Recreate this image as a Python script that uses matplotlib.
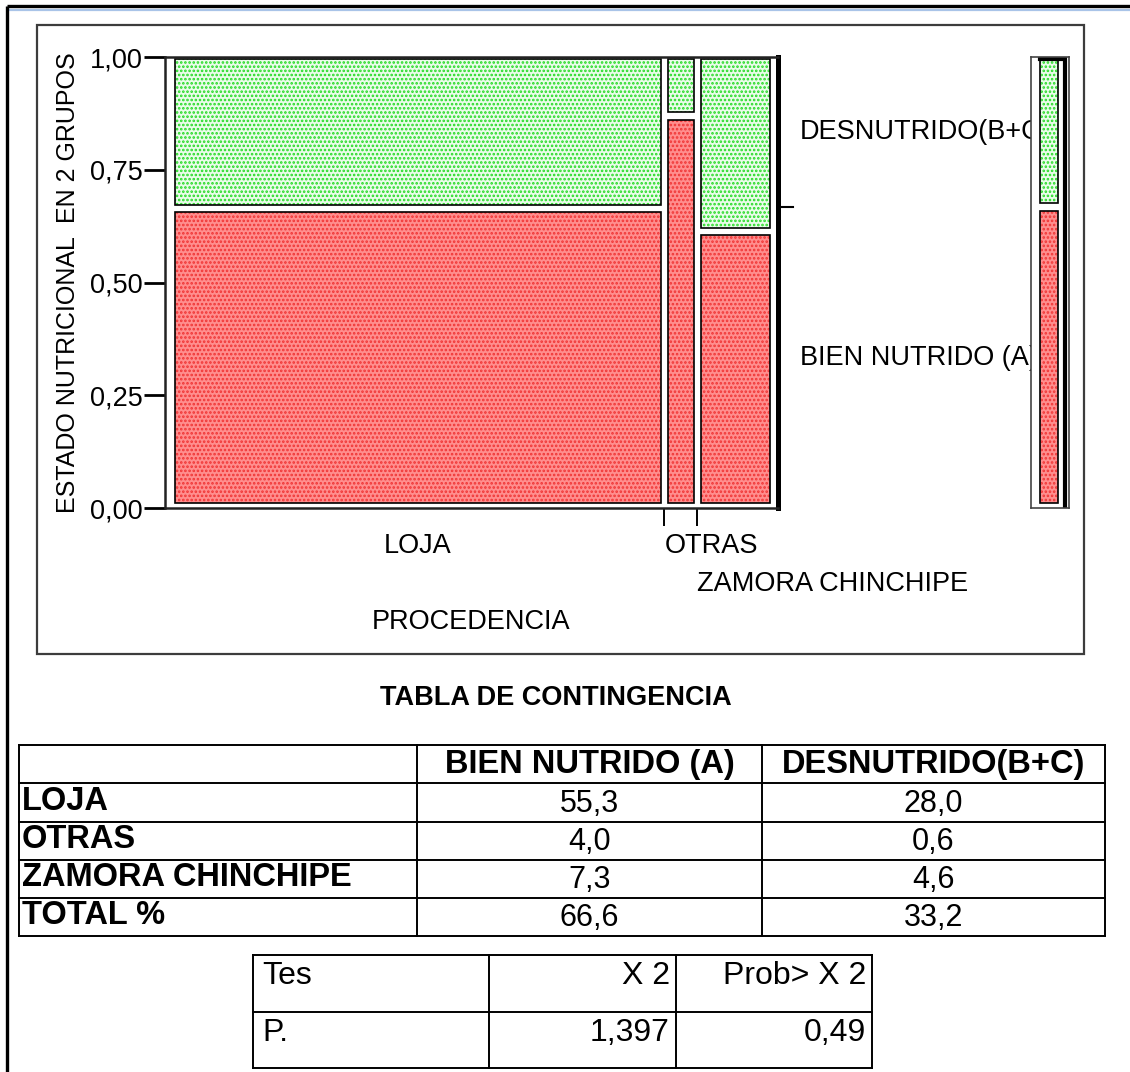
import numpy as np
import matplotlib
matplotlib.use("Agg")
import matplotlib.pyplot as plt
from matplotlib.patches import Rectangle


# contingency table (% of total)
procedencia = ["LOJA", "OTRAS", "ZAMORA CHINCHIPE"]
estados = ["BIEN NUTRIDO (A)", "DESNUTRIDO(B+C)"]
bien_nutrido = np.array([55.3, 4.0, 7.3])
desnutrido = np.array([28.0, 0.6, 4.6])
total_pct = [66.6, 33.2]
y_ticks = [0.0, 0.25, 0.50, 0.75, 1.00]

# chi-square test
prueba = ["Tes", "P."]
prueba_cols = ["X 2", "Prob> X 2"]
chi2 = 1.397
prob_chi2 = 0.49

W, H = 1130, 1072
plt.rcParams["font.family"] = ["Liberation Sans", "DejaVu Sans"]
plt.rcParams["hatch.linewidth"] = 1.25
FS = 19.5

RED_BG, RED_DOT = "#ff8e8e", "#f03434"
GRN_BG, GRN_DOT = "#eafcea", "#22da22"


def coma(v, nd):
    return f"{v:.{nd}f}".replace(".", ",")


def box(l, t, r, b):
    return [l / W, 1 - b / H, (r - l) / W, (b - t) / H]


def cell(ax, x, y, w, h, bg, dot):
    ax.add_patch(Rectangle((x, y), w, h, facecolor=bg, edgecolor=dot,
                           hatch="....", linewidth=0))
    ax.add_patch(Rectangle((x, y), w, h, facecolor="none",
                           edgecolor="black", linewidth=1.2))


def stack(ax, x, w, p, ybot=0.011, ytop=0.996, ygap=0.0085):
    cell(ax, x, ybot, w, p - ygap - ybot, RED_BG, RED_DOT)
    cell(ax, x, p + ygap, w, ytop - p - ygap, GRN_BG, GRN_DOT)


fig = plt.figure(figsize=(W / 100, H / 100), dpi=100)

# page frame and layout layer in pixel units
pg = fig.add_axes([0, 0, 1, 1], zorder=-1)
pg.set_xlim(0, W)
pg.set_ylim(H, 0)
pg.axis("off")
pg.plot([7, W], [6, 6], color="black", lw=2.4, solid_capstyle="butt")
pg.plot([9, W], [10, 10], color="#a9c4e8", lw=1.6, solid_capstyle="butt")
pg.plot([7, 7], [6, H], color="black", lw=2.4, solid_capstyle="butt")
pg.add_patch(Rectangle((37, 25), 1047, 629, fill=False,
                       edgecolor="#3c3c3c", lw=1.6))

# mosaic plot
ax = fig.add_axes(box(165, 57, 778, 508))
ax.set_xlim(0, 1)
ax.set_ylim(0, 1)

row_tot = bien_nutrido + desnutrido
share = row_tot / row_tot.sum()
prop_a = bien_nutrido / row_tot
x0, x1, gap = 0.016, 0.987, 0.010
widths = share * (x1 - x0 - gap * (len(share) - 1))
lefts = x0 + np.concatenate([[0], np.cumsum(widths + gap)[:-1]])
for x, w, p in zip(lefts, widths, prop_a):
    stack(ax, x, w, p)

bounds = lefts[1:] - gap / 2
ax.set_xticks(bounds)
ax.set_xticklabels([])
ax.tick_params(axis="x", length=13, width=1.4)
ax.set_yticks(y_ticks)
ax.set_yticklabels([coma(t, 2) for t in y_ticks])
ax.tick_params(axis="y", length=15, width=2, labelsize=FS, pad=1)
for s in ["left", "top", "bottom"]:
    ax.spines[s].set_linewidth(1.8)
    ax.spines[s].set_color("#222222")
ax.spines["right"].set_linewidth(3.6)

xt = ax.get_xaxis_transform()
for i, name in enumerate(procedencia):
    if i == 0:
        ax.text(lefts[i] + widths[i] / 2, -0.084, name, transform=xt,
                ha="center", va="center", fontsize=FS)
    else:
        ax.text(bounds[i - 1], -0.084 - 0.085 * (i - 1), name, transform=xt,
                ha="left", va="center", fontsize=FS)
ax.text(0.5, -0.253, "PROCEDENCIA", transform=ax.transAxes,
        ha="center", va="center", fontsize=FS)
ax.text(-0.158, 0.5, "ESTADO NUTRICIONAL  EN 2 GRUPOS", transform=ax.transAxes,
        rotation=90, ha="center", va="center", fontsize=18)

# overall split on the right
pa = total_pct[0] / sum(total_pct)
yt = ax.get_yaxis_transform()
ax.plot([1.0, 1.025], [pa, pa], transform=yt, color="black", lw=1.5,
        clip_on=False)
ax.text(1.036, (pa + 1) / 2, estados[1], transform=yt, ha="left",
        va="center", fontsize=FS)
ax.text(1.036, pa / 2, estados[0], transform=yt, ha="left",
        va="center", fontsize=FS)

ax2 = fig.add_axes(box(1031, 57, 1069, 508), zorder=5)
ax2.set_xlim(0, 1)
ax2.set_ylim(0, 1)
ax2.set_xticks([])
ax2.set_yticks([])
for s in ax2.spines.values():
    s.set_linewidth(1.2)
    s.set_color("#444444")
stack(ax2, 0.24, 0.47, pa)
ax2.plot([0.24, 0.90, 0.90], [0.996, 0.996, 0.0], color="black", lw=3,
         solid_joinstyle="miter")

# contingency table
pg.text(556, 698, "TABLA DE CONTINGENCIA", ha="center", va="center",
        fontsize=19.5, fontweight="bold")
col_x = [19, 417, 762, 1105]
row_y = [745, 783, 822, 860, 898, 936]
for y in row_y:
    pg.plot([col_x[0], col_x[-1]], [y, y], color="black", lw=1.4)
for x in col_x:
    pg.plot([x, x], [row_y[0], row_y[-1]], color="black", lw=1.4)
for j, est in enumerate(estados):
    pg.text((col_x[j + 1] + col_x[j + 2]) / 2, (row_y[0] + row_y[1]) / 2,
            est, ha="center", va="center", fontsize=23.5, fontweight="bold")
rows = list(zip(procedencia, bien_nutrido, desnutrido)) + \
    [("TOTAL %", total_pct[0], total_pct[1])]
for i, (name, a, b) in enumerate(rows):
    yc = (row_y[i + 1] + row_y[i + 2]) / 2
    pg.text(22, yc - 1, name, ha="left", va="center", fontsize=23.5,
            fontweight="bold")
    for j, v in enumerate([a, b]):
        pg.text((col_x[j + 1] + col_x[j + 2]) / 2, yc + 1, coma(v, 1),
                ha="center", va="center", fontsize=22)

# chi-square table
cx = [253, 489, 676, 872]
cy = [955, 1012, 1068]
for y in cy:
    pg.plot([cx[0], cx[-1]], [y, y], color="black", lw=1.4)
for x in cx:
    pg.plot([x, x], [cy[0], cy[-1]], color="black", lw=1.4)
cells = [[prueba[0]] + prueba_cols,
         [prueba[1], coma(chi2, 3), coma(prob_chi2, 2)]]
for i, fila in enumerate(cells):
    yc = cy[i] + 21
    pg.text(cx[0] + 9, yc, fila[0], ha="left", va="center", fontsize=23)
    for j in (1, 2):
        pg.text(cx[j + 1] - 6, yc, fila[j], ha="right", va="center",
                fontsize=23)

fig.savefig("out.png", dpi=100)
